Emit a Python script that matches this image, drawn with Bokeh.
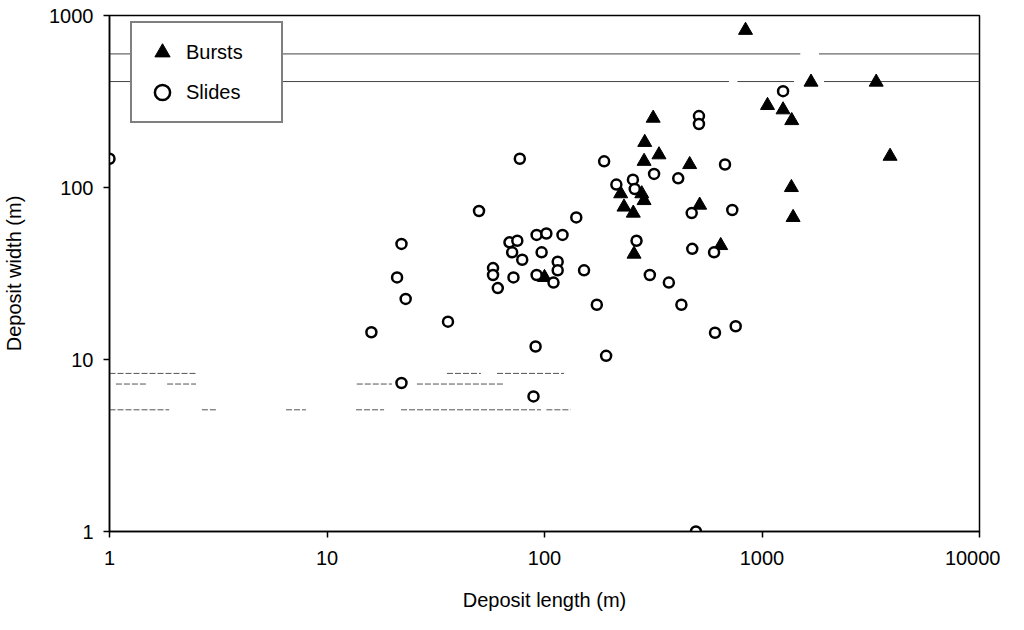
from bokeh.plotting import figure
from bokeh.models import FixedTicker, Legend, LegendItem
from bokeh.embed import file_html
from bokeh.resources import INLINE

# ---- data ----
burst_length = [840, 1680, 3350, 3880, 1060, 1250, 1370, 1365, 1390, 316, 289, 336,
                287, 465, 224, 280, 287, 232, 256, 517, 258, 646, 100]
burst_width = [820, 410, 410, 152, 300, 283, 245, 100, 67, 253, 183, 155,
               142, 136, 92, 92, 84, 77, 71, 79, 41, 46, 30]

slide_length = [77, 50, 22, 21, 23, 92, 102, 69, 75, 71, 79, 97, 58, 58, 72, 61, 92,
                36, 16, 91, 22, 89, 188, 319, 412, 676, 214, 255, 260, 140, 730, 475,
                121, 115, 115, 110, 152, 265, 478, 602, 305, 373, 1250, 513, 513, 174,
                426, 757, 608, 192, 1, 497]
slide_width = [147, 73, 47, 30, 22.5, 53, 54, 48, 49, 42, 38, 42, 34, 31, 30, 26, 31,
               16.6, 14.4, 11.9, 7.3, 6.1, 142, 120, 113, 136, 104, 111, 98, 67, 74, 71,
               53, 37, 33, 28, 33, 49, 44, 42, 31, 28, 363, 260, 234, 20.8,
               20.8, 15.6, 14.3, 10.5, 147, 1]

x_ticks = [1, 10, 100, 1000, 10000]
x_tick_labels = ["1", "10", "100", "1000", "10000"]
y_ticks = [1, 10, 100, 1000]
y_tick_labels = ["1", "10", "100", "1000"]

series_names = ["Bursts", "Slides"]
x_title = "Deposit length (m)"
y_title = "Deposit width (m)"

# faint scan streaks visible in the scanned original (data coordinates)
upper_x0 = [1, 1828, 1, 771, 1928]
upper_x1 = [1500, 10000, 705, 1404, 10000]
upper_y = [598, 598, 413, 413, 413]

lower_x0 = [1, 35.6, 60.5, 1.07, 1.84, 13.7, 25.9, 1, 2.66, 6.48, 13.6, 21.9, 102]
lower_x1 = [2.5, 51, 123, 1.49, 2.5, 19.9, 65.2, 1.88, 3.12, 8.0, 18.3, 96.4, 132]
lower_y = [8.3, 8.3, 8.3, 7.2, 7.2, 7.2, 7.2, 5.1, 5.1, 5.1, 5.1, 5.1, 5.1]

FONT = "Liberation Sans"

p = figure(width=1000, height=622,
           x_axis_type="log", y_axis_type="log",
           x_range=(1, 10000), y_range=(1, 1000),
           output_backend="svg", toolbar_location=None,
           min_border_left=109, min_border_right=21,
           min_border_top=15, min_border_bottom=91,
           x_axis_label=x_title, y_axis_label=y_title)

p.grid.visible = False
p.outline_line_color = "black"
p.outline_line_width = 1.5
p.background_fill_color = "white"
p.border_fill_color = "white"

p.xaxis.ticker = FixedTicker(ticks=x_ticks)
p.yaxis.ticker = FixedTicker(ticks=y_ticks)
p.xaxis.major_label_overrides = dict(zip(x_ticks, x_tick_labels))
p.yaxis.major_label_overrides = dict(zip(y_ticks, y_tick_labels))

for ax in (p.xaxis, p.yaxis):
    ax.axis_line_color = "black"
    ax.axis_line_width = 1.5
    ax.major_tick_line_color = "black"
    ax.major_tick_line_width = 1.5
    ax.major_tick_in = 0
    ax.major_tick_out = 6
    ax.minor_tick_line_color = None
    ax.major_label_text_font = FONT
    ax.major_label_text_font_size = "20px"
    ax.major_label_text_color = "black"
    ax.axis_label_text_font = FONT
    ax.axis_label_text_font_size = "20px"
    ax.axis_label_text_font_style = "normal"
    ax.axis_label_text_color = "black"

p.xaxis.major_label_standoff = 13
p.xaxis.axis_label_standoff = 21
p.yaxis.major_label_standoff = 10
p.yaxis.axis_label_standoff = 21

p.segment(x0=upper_x0, y0=upper_y, x1=upper_x1, y1=upper_y,
          line_color="#444444", line_width=1)
p.segment(x0=lower_x0, y0=lower_y, x1=lower_x1, y1=lower_y,
          line_color="#555555", line_width=1, line_dash="6 2")

tri = p.scatter(burst_length, burst_width, marker="triangle", size=14,
                fill_color="black", line_color="black", line_width=1)
circ = p.scatter(slide_length, slide_width, marker="circle", size=10,
                 fill_color="white", line_color="black", line_width=2.5)

legend = Legend(items=[LegendItem(label=series_names[0], renderers=[tri]),
                       LegendItem(label=series_names[1], renderers=[circ])],
                location=(21, 408),
                glyph_width=40, glyph_height=38, spacing=2, padding=10,
                label_standoff=4, label_width=85,
                label_text_font=FONT, label_text_font_size="20px",
                label_text_color="black",
                border_line_color="black", border_line_width=2,
                background_fill_color="white", background_fill_alpha=1.0)
p.add_layout(legend)

open("out.html", "w").write(file_html(p, INLINE))
